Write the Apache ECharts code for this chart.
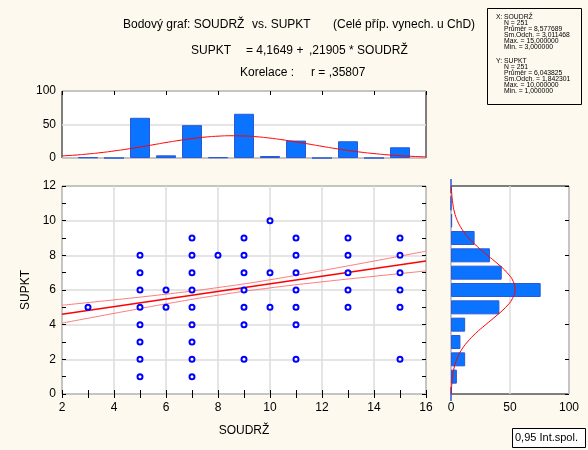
<!DOCTYPE html>
<html>
<head>
<meta charset="utf-8">
<script src="https://cdn.jsdelivr.net/npm/echarts@6/dist/echarts.min.js"></script>
<style>
  html, body { margin: 0; padding: 0; background: #fef9ee; }
  #chart { width: 588px; height: 450px; }
</style>
</head>
<body>
<div id="chart"></div>
<script>
// histogram of SOUDRŽ (top)
const soudrzValues = [3, 4, 5, 6, 7, 8, 9, 10, 11, 12, 13, 14, 15];
const soudrzCounts = [1, 0, 60, 4, 49, 1, 66, 3, 26, 0, 25, 0, 16];
const soudrzCurveX = [2, 2.5, 3, 3.5, 4, 4.5, 5, 5.5, 6, 6.5, 7, 7.5, 8, 8.5, 9, 9.5, 10, 10.5, 11, 11.5, 12, 12.5, 13, 13.5, 14, 14.5, 15, 15.5, 16];
const soudrzCurveY = [3.1, 4.3, 6.0, 8.0, 10.5, 13.3, 16.4, 19.7, 23.1, 26.2, 29.0, 31.2, 32.6, 33.2, 32.9, 31.7, 29.7, 27.1, 24.1, 20.8, 17.4, 14.2, 11.3, 8.7, 6.6, 4.8, 3.4, 2.4, 1.6];

// histogram of SUPKT (right)
const supktValues = [1, 2, 3, 4, 5, 6, 7, 8, 9, 10];
const supktCounts = [5, 12, 8, 12, 41, 76, 43, 33, 20, 1];
const supktCurveY = [0, 0.5, 1, 1.5, 2, 2.5, 3, 3.5, 4, 4.5, 5, 5.5, 6, 6.5, 7, 7.5, 8, 8.5, 9, 9.5, 10, 10.5, 11, 11.5, 12];
const supktCurveX = [0.3, 0.6, 1.3, 2.6, 4.9, 8.5, 13.9, 20.9, 29.4, 38.2, 46.3, 52.0, 54.3, 52.7, 47.5, 39.8, 30.9, 22.4, 15.0, 9.4, 5.4, 2.9, 1.5, 0.7, 0.3];

// scatter SOUDRŽ vs SUPKT
const points = [
  [3, 5],
  [5, 1], [5, 2], [5, 3], [5, 4], [5, 5], [5, 6], [5, 7], [5, 8],
  [6, 5], [6, 6],
  [7, 1], [7, 2], [7, 3], [7, 4], [7, 5], [7, 6], [7, 7], [7, 8], [7, 9],
  [8, 8],
  [9, 2], [9, 4], [9, 5], [9, 6], [9, 7], [9, 8], [9, 9],
  [10, 5], [10, 7], [10, 10],
  [11, 2], [11, 4], [11, 5], [11, 6], [11, 7], [11, 8], [11, 9],
  [13, 5], [13, 6], [13, 7], [13, 8], [13, 9],
  [15, 2], [15, 5], [15, 6], [15, 7], [15, 8], [15, 9]
];

// regression line and 0,95 band
const fitX = [2, 16];
const fitY = [4.60, 7.67];
const bandX = [2, 4, 6, 8, 10, 12, 14, 16];
const bandUpper = [5.12, 5.43, 5.76, 6.14, 6.59, 7.12, 7.67, 8.24];
const bandLower = [4.09, 4.65, 5.20, 5.70, 6.12, 6.47, 6.79, 7.10];

const supktCats = ['0', '1', '2', '3', '4', '5', '6', '7', '8', '9', '10', '11', '12'];

const FONT = '"Liberation Sans", Arial, sans-serif';
const zip = (a, b) => a.map((v, i) => [v, b[i]]);

const chart = echarts.init(document.getElementById('chart'));

const gridStyle = { show: true, backgroundColor: '#fff', borderColor: '#000', borderWidth: 1 };
const label = { color: '#000', fontFamily: FONT, fontSize: 12 };
const tickIn = { show: true, inside: true, length: 4, lineStyle: { color: '#000' } };
const minorIn = { show: true, splitNumber: 2, length: 4, lineStyle: { color: '#000' } };
const gridLine = { show: true, lineStyle: { color: '#dcdcdc', width: 1.5 } };

const rightBars = supktCats.map(c => {
  const i = supktValues.indexOf(Number(c));
  return i < 0 ? 0 : supktCounts[i];
});

function txt(x, y, s, size, align) {
  return {
    type: 'text', x: x, y: y, silent: true,
    style: { text: s, font: size + 'px ' + FONT, fill: '#000', textAlign: align || 'left', textVerticalAlign: 'middle' }
  };
}

// stats box (top right)
const statsX = ['SOUDRŽ', 'N = 251', 'Průměr = 8,577689', 'Sm.Odch. = 3,011468', 'Max. = 15,000000', 'Min. = 3,000000'];
const statsY = ['SUPKT', 'N = 251', 'Průměr = 6,043825', 'Sm.Odch. = 1,842301', 'Max. = 10,000000', 'Min. = 1,000000'];
const statsGraphics = [txt(496, 17, 'X:', 6.8), txt(496, 61, 'Y:', 6.8)];
statsX.forEach((s, i) => statsGraphics.push(txt(504, 17 + i * 6, s, 6.8)));
statsY.forEach((s, i) => statsGraphics.push(txt(504, 61 + i * 6, s, 6.8)));

chart.setOption({
  backgroundColor: '#fef9ee',
  animation: false,
  grid: [
    Object.assign({ left: 62, right: 162, top: 91, height: 67 }, gridStyle),
    Object.assign({ left: 62, right: 162, top: 186, height: 208 }, gridStyle),
    Object.assign({ left: 451, right: 19, top: 186, height: 208 }, gridStyle)
  ],
  xAxis: [
    { gridIndex: 0, type: 'value', min: 2, max: 16, interval: 2, axisLabel: { show: false },
      axisLine: { show: false }, axisTick: { show: false }, splitLine: { show: false } },
    { gridIndex: 0, type: 'value', position: 'top', min: 2, max: 16, interval: 2, axisLabel: { show: false },
      axisLine: { show: false }, axisTick: tickIn, splitLine: { show: false } },
    { gridIndex: 1, type: 'value', min: 2, max: 16, interval: 2, axisLabel: Object.assign({ margin: 8 }, label),
      axisLine: { show: false }, axisTick: tickIn, minorTick: minorIn, splitLine: gridLine,
      name: 'SOUDRŽ', nameLocation: 'middle', nameGap: 31, nameTextStyle: label },
    { gridIndex: 1, type: 'value', position: 'top', min: 2, max: 16, interval: 2, axisLabel: { show: false },
      axisLine: { show: false }, axisTick: tickIn, minorTick: minorIn, splitLine: { show: false } },
    { gridIndex: 2, type: 'value', min: 0, max: 100, interval: 50, axisLabel: Object.assign({ margin: 8 }, label),
      axisLine: { show: false }, axisTick: { show: false }, splitLine: gridLine }
  ],
  yAxis: [
    { gridIndex: 0, type: 'value', min: 0, max: 100, interval: 50, axisLabel: Object.assign({ margin: 6 }, label),
      axisLine: { show: false }, axisTick: { show: false }, splitLine: gridLine },
    { gridIndex: 1, type: 'value', min: 0, max: 12, interval: 2, axisLabel: Object.assign({ margin: 6 }, label),
      axisLine: { show: false }, axisTick: tickIn, minorTick: minorIn, splitLine: gridLine,
      name: 'SUPKT', nameLocation: 'middle', nameGap: 29, nameRotate: 90, nameTextStyle: label },
    { gridIndex: 1, type: 'value', position: 'right', min: 0, max: 12, interval: 2, axisLabel: { show: false },
      axisLine: { show: false }, axisTick: tickIn, minorTick: minorIn, splitLine: { show: false } },
    { gridIndex: 2, type: 'category', data: supktCats, boundaryGap: false, axisLabel: { show: false },
      axisLine: { show: false }, axisTick: { show: false }, splitLine: { show: false } },
    { gridIndex: 2, type: 'value', position: 'right', min: 0, max: 12, interval: 2, axisLabel: { show: false },
      axisLine: { show: false }, axisTick: tickIn, splitLine: { show: false } }
  ],
  series: [
    { type: 'bar', xAxisIndex: 0, yAxisIndex: 0, barWidth: 20, data: zip(soudrzValues, soudrzCounts),
      itemStyle: { color: '#0a73ff', borderColor: '#2a58d8', borderWidth: 1 } },
    { type: 'line', xAxisIndex: 1, yAxisIndex: 0, data: zip(soudrzCurveX, soudrzCurveY), smooth: true,
      symbol: 'none', lineStyle: { color: '#ff0000', width: 1 } },
    { type: 'line', xAxisIndex: 2, yAxisIndex: 1, data: zip(bandX, bandUpper), smooth: true,
      symbol: 'none', lineStyle: { color: '#ff7a7a', width: 1 }, z: 3 },
    { type: 'line', xAxisIndex: 2, yAxisIndex: 1, data: zip(bandX, bandLower), smooth: true,
      symbol: 'none', lineStyle: { color: '#ff7a7a', width: 1 }, z: 3 },
    { type: 'line', xAxisIndex: 2, yAxisIndex: 1, data: zip(fitX, fitY),
      symbol: 'none', lineStyle: { color: '#ff0000', width: 1.5 }, z: 3 },
    { type: 'scatter', xAxisIndex: 2, yAxisIndex: 1, data: points, symbolSize: 5, z: 4,
      itemStyle: { color: '#ffffff', borderColor: '#0000ff', borderWidth: 2, opacity: 1 } },
    { type: 'bar', xAxisIndex: 4, yAxisIndex: 3, barWidth: 14, data: rightBars,
      itemStyle: { color: '#0a73ff', borderColor: '#2a58d8', borderWidth: 1 } },
    { type: 'line', xAxisIndex: 4, yAxisIndex: 4, data: zip(supktCurveX, supktCurveY), smooth: true,
      symbol: 'none', lineStyle: { color: '#ff0000', width: 1 } }
  ],
  graphic: [
    txt(123, 25, 'Bodový graf: SOUDRŽ', 12),
    txt(252, 25, 'vs. SUPKT', 12),
    txt(333, 25, '(Celé příp. vynech. u ChD)', 12),
    txt(191, 51, 'SUPKT', 12),
    txt(246, 51, '= 4,1649 +', 12),
    txt(309, 51, ',21905 * SOUDRŽ', 12),
    txt(240, 73, 'Korelace :', 12),
    txt(311, 73, 'r = ,35807', 12),
    { type: 'rect', shape: { x: 487.5, y: 8.5, width: 94, height: 96 }, silent: true,
      style: { fill: '#fef9ee', stroke: '#000', lineWidth: 1 } },
    { type: 'rect', shape: { x: 512.5, y: 428.5, width: 73, height: 19 }, silent: true,
      style: { fill: '#fff', stroke: '#000', lineWidth: 1 } },
    txt(515, 438, '0,95 Int.spol.', 11)
  ].concat(statsGraphics)
});
</script>
</body>
</html>
